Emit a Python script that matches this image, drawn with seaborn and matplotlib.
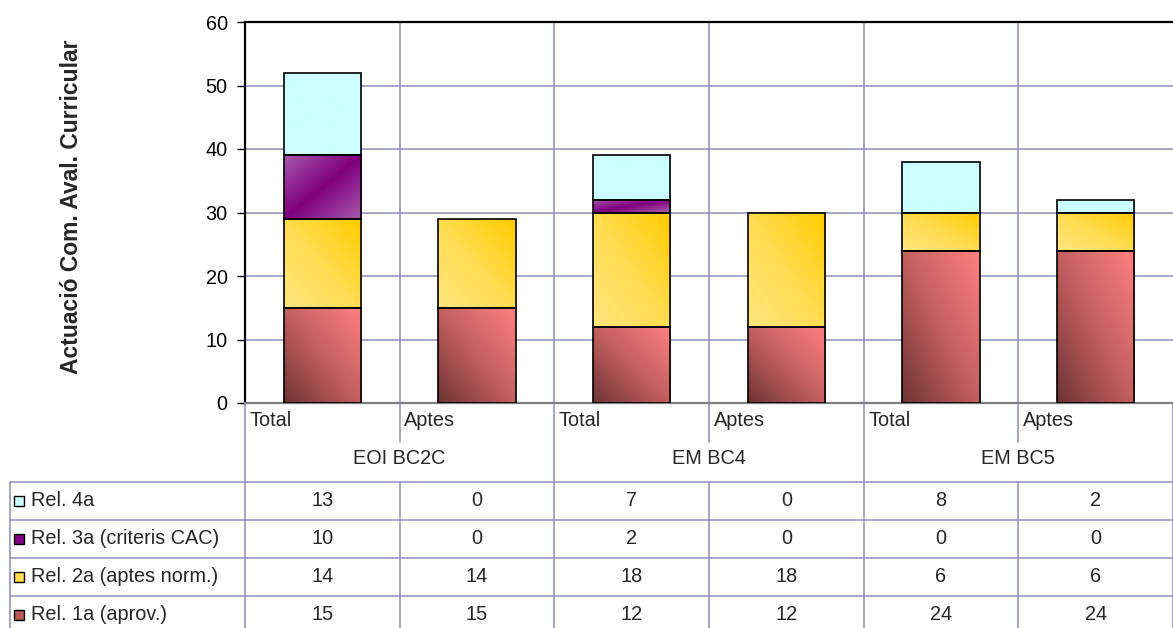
import numpy as np
import pandas as pd
import matplotlib
matplotlib.use("Agg")
import matplotlib.pyplot as plt
import matplotlib.transforms as mtransforms
from matplotlib.colors import LinearSegmentedColormap
from matplotlib.patches import Rectangle
import seaborn as sns

# ---------------- data ----------------
groups = ["EOI BC2C", "EM BC4", "EM BC5"]
subcats = ["Total", "Aptes"]
series_names = ["Rel. 1a (aprov.)", "Rel. 2a (aptes norm.)",
                "Rel. 3a (criteris CAC)", "Rel. 4a"]
rel1 = [15, 15, 12, 12, 24, 24]
rel2 = [14, 14, 18, 18, 6, 6]
rel3 = [10, 0, 2, 0, 0, 0]
rel4 = [13, 0, 7, 0, 8, 2]
yticks = [0, 10, 20, 30, 40, 50, 60]
ylabel = "Actuació Com. Aval. Curricular"

series_values = [rel1, rel2, rel3, rel4]
positions = [f"{g}|{s}" for g in groups for s in subcats]

# ---------------- style ----------------
sns.set_style("white")
plt.rcParams["font.family"] = ["Liberation Sans", "DejaVu Sans"]
FS = 14.3
GRID = "#8e8ebc"

W, H = 1173, 628
fig = plt.figure(figsize=(W / 100, H / 100), dpi=100)
L, R, T, B = 245, 1173, 22, 403
ax = fig.add_axes([L / W, 1 - B / H, (R - L) / W, (B - T) / H])

cmaps = [
    LinearSegmentedColormap.from_list("c1", ["#6e3434", "#c46060", "#ff8080"]),
    LinearSegmentedColormap.from_list("c2", ["#ffe680", "#ffdc50", "#ffcc00"]),
    LinearSegmentedColormap.from_list("c3", ["#800080", "#a65aaa"]),
    LinearSegmentedColormap.from_list("c4", ["#ccffff", "#ccffff"]),
]

N = 64
gx, gy = np.meshgrid(np.linspace(0, 1, N), np.linspace(0, 1, N))
grad_fields = [
    (gx + gy) / 2,
    (gx + gy) / 2,
    np.abs(gx - gy),
    np.zeros_like(gx),
]

bottoms = np.zeros(len(positions))
for si, (name, vals) in enumerate(zip(series_names, series_values)):
    df = pd.DataFrame({"pos": positions, "value": vals})
    n_before = len(ax.patches)
    sns.barplot(data=df, x="pos", y="value", order=positions, width=0.5,
                color="white", ax=ax, zorder=3)
    new_patches = ax.patches[n_before:]
    for i, p in enumerate(new_patches):
        v = vals[i]
        p.set_y(bottoms[i])
        p.set_height(v)
        if v == 0:
            p.set_visible(False)
            continue
        p.set_facecolor("none")
        p.set_edgecolor("black")
        p.set_linewidth(1.2)
        p.set_zorder(4)
        x0, y0, w, h = p.get_x(), p.get_y(), p.get_width(), p.get_height()
        im = ax.imshow(grad_fields[si], cmap=cmaps[si], origin="lower",
                       extent=[x0, x0 + w, y0, y0 + h], aspect="auto",
                       vmin=0, vmax=1, zorder=3, interpolation="bilinear")
        im.set_clip_path(p)
    bottoms = bottoms + np.array(vals)

ax.set_xlim(-0.5, len(positions) - 0.5)
ax.set_ylim(yticks[0], yticks[-1])
ax.set_aspect("auto")
ax.set_yticks(yticks)
ax.set_yticklabels([str(t) for t in yticks], fontsize=FS)
ax.set_xticks(np.arange(0.5, len(positions) - 0.5, 1.0))
ax.set_xticklabels([])
ax.set_xlabel("")
ax.set_ylabel("")
ax.tick_params(axis="y", direction="out", length=6, width=1, pad=6.5, colors="black", left=True)
ax.tick_params(axis="x", length=0)
ax.set_axisbelow(True)
ax.grid(True, axis="both", color=GRID, linewidth=1.1, zorder=0)
for side in ["top", "left"]:
    ax.spines[side].set_color("black")
    ax.spines[side].set_linewidth(1.6)
ax.spines["bottom"].set_color("#7f7f7f")
ax.spines["bottom"].set_linewidth(1.6)
ax.spines["right"].set_visible(False)

fig.text(72 / W, 1 - 207 / H, ylabel, rotation=90, ha="center", va="center",
         fontsize=16.5, fontweight="bold")

# ---------------- data table ----------------
tax = fig.add_axes([0, 0, 1, 1], zorder=-1)
tax.set_xlim(0, W)
tax.set_ylim(H, 0)
tax.axis("off")
bt = mtransforms.blended_transform_factory(ax.transData, tax.transData)

sub_top, sub_bot = B, 442
grp_y = 459
row_top = 482
row_h = 38
n_pos = len(positions)

# vertical lines
for k in range(n_pos + 1):
    xb = k - 0.5
    if k % 2 == 0:
        tax.plot([xb, xb], [B, H + 5], color=GRID, lw=1.1, transform=bt, clip_on=False)
    else:
        tax.plot([xb, xb], [sub_top, sub_bot], color=GRID, lw=1.1, transform=bt, clip_on=False)
        tax.plot([xb, xb], [row_top, H + 5], color=GRID, lw=1.1, transform=bt, clip_on=False)
# left border of legend column
tax.plot([10, 10], [row_top, H + 5], color=GRID, lw=1.1)
# horizontal lines
for r in range(4):
    yy = row_top + r * row_h
    tax.plot([10, W], [yy, yy], color=GRID, lw=1.1)

# sub-category labels
for k, pos in enumerate(positions):
    sub = pos.split("|")[1]
    tax.text(k - 0.5 + 0.03, 421, sub, transform=bt, ha="left", va="center", fontsize=FS)
# group labels
for gi, g in enumerate(groups):
    tax.text(2 * gi + 0.5, grp_y, g, transform=bt, ha="center", va="center", fontsize=FS)

# rows: top-to-bottom = series in reverse order
legend_colors = ["#b85c5c", "#ffdc50", "#800080", "#ccffff"]
order = [3, 2, 1, 0]
for r, si in enumerate(order):
    yc = row_top + r * row_h + row_h / 2
    tax.add_patch(Rectangle((14, yc - 5), 10, 10, facecolor=legend_colors[si],
                            edgecolor="black", lw=1.0))
    tax.text(31, yc, series_names[si], ha="left", va="center", fontsize=FS)
    for k in range(n_pos):
        tax.text(k, yc, str(series_values[si][k]), transform=bt,
                 ha="center", va="center", fontsize=FS)

fig.savefig("out.png", dpi=100)
